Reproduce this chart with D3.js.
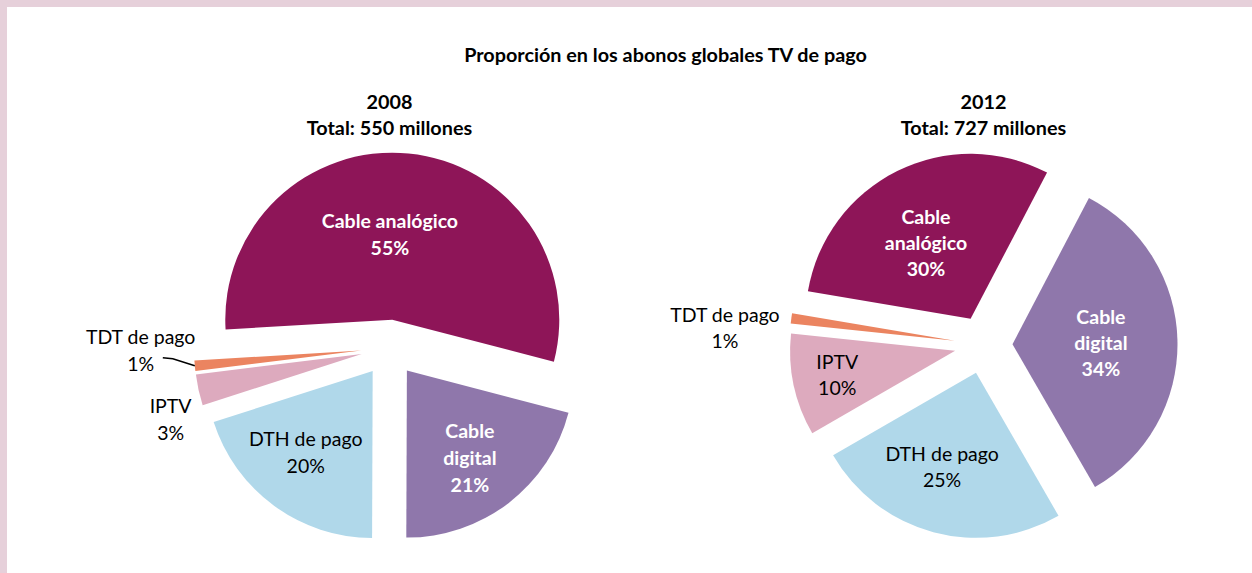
<!DOCTYPE html>
<html><head><meta charset="utf-8">
<script src="https://cdn.jsdelivr.net/npm/d3@7"></script>
<style>body{margin:0;background:#fff} svg{display:block}</style>
</head><body>
<svg id="c" width="1252" height="573"></svg>
<script>
// ---- data ----
const categories = ["Cable analógico", "Cable digital", "DTH de pago", "IPTV", "TDT de pago"];
const years = ["2008", "2012"];
const totals = [550, 727];
const values2008 = [55, 21, 20, 3, 1];
const values2012 = [30, 34, 25, 10, 1];
const title = "Proporción en los abonos globales TV de pago";

// ---- styles / layout ----
const colors = ["#8E1558", "#8F77AB", "#B0D8EA", "#DDAABE", "#EB8460"];
const textColors = ["#fff", "#fff", "#000", "#000", "#000"];
const textWeights = ["bold", "bold", "normal", "normal", "normal"];
const FONT = "Lato, 'Open Sans', sans-serif";
const pies = [
  { values: values2008, cx: 389.5, cy: 348, r: 167, explode: 28.5, start: -93.4,
    lines: [["Cable analógico"], ["Cable", "digital"], ["DTH de pago"], ["IPTV"], ["TDT de pago"]],
    labelPolar: [[-7.2, 0.507], [1.8, 0.645], [3.3, 0.63], [-6.6, 1.21], [5.2, 1.32]],
    leader: [false, false, false, false, true], lh: 27 },
  { values: values2012, cx: 983.5, cy: 344.8, r: 165, explode: 29, start: -80.4,
    lines: [["Cable", "analógico"], ["Cable", "digital"], ["DTH de pago"], ["IPTV"], ["TDT de pago"]],
    labelPolar: [[-4.1, 0.533], [0.3, 0.536], [4.8, 0.606], [0.2, 0.73], [-4.6, 1.395]],
    leader: [false, false, false, false, false], lh: 26 }
];

const svg = d3.select("#c");
// frame
svg.append("rect").attr("x", 0).attr("y", 0).attr("width", 1252).attr("height", 7).attr("fill", "#E6D0DA");
svg.append("rect").attr("x", 0).attr("y", 0).attr("width", 7).attr("height", 573).attr("fill", "#E6D0DA");

svg.append("text").attr("x", 665.5).attr("y", 62).attr("text-anchor", "middle")
  .attr("font-family", FONT).attr("font-weight", "bold").attr("font-size", 19.8)
  .text(title);

const rad = d => d * Math.PI / 180;
const polar = (a, r) => [r * Math.sin(a), -r * Math.cos(a)];

pies.forEach((p, pi) => {
  const g = svg.append("g");
  g.append("text").attr("x", p.cx).attr("y", 109).attr("text-anchor", "middle")
    .attr("font-family", FONT).attr("font-weight", "bold").attr("font-size", 19.8).text(years[pi]);
  g.append("text").attr("x", p.cx).attr("y", 135).attr("text-anchor", "middle")
    .attr("font-family", FONT).attr("font-weight", "bold").attr("font-size", 19.8)
    .text("Total: " + totals[pi] + " millones");

  const s = rad(p.start);
  const pie = d3.pie().sort(null).value(d => d).startAngle(s).endAngle(s + 2 * Math.PI);
  const arc = d3.arc().innerRadius(0).outerRadius(p.r);
  const arcs = pie(p.values);
  const sum = d3.sum(p.values);

  arcs.forEach((a, i) => {
    const mid = (a.startAngle + a.endAngle) / 2;
    const [ox, oy] = polar(mid, p.explode);
    const ax = p.cx + ox, ay = p.cy + oy;
    g.append("path").attr("d", arc(a)).attr("transform", `translate(${ax},${ay})`)
      .attr("fill", colors[i]);

    const [la, lf] = p.labelPolar[i];
    const [lx0, ly0] = polar(mid + rad(la), lf * p.r);
    const lx = ax + lx0, ly = ay + ly0;
    const lines = p.lines[i].concat([Math.round(a.data / sum * 100) + "%"]);
    const t = g.append("text").attr("text-anchor", "middle")
      .attr("font-family", FONT).attr("font-size", 19.5)
      .attr("font-weight", textWeights[i]).attr("fill", textColors[i]);
    lines.forEach((ln, k) => {
      t.append("tspan").attr("x", lx)
        .attr("y", ly + (k - (lines.length - 1) / 2) * p.lh)
        .attr("dy", "0.35em").text(ln);
    });

    if (p.leader[i]) {
      const [ex, ey] = polar(mid, p.r);
      const x1 = ax + ex, y1 = ay + ey;
      const pts = [[x1, y1], [x1 - 22, y1 - 7], [x1 - 32, y1 - 8]];
      g.append("path").attr("d", d3.line()(pts)).attr("fill", "none")
        .attr("stroke", "#000").attr("stroke-width", 1.5);
    }
  });
});
</script>
</body></html>
